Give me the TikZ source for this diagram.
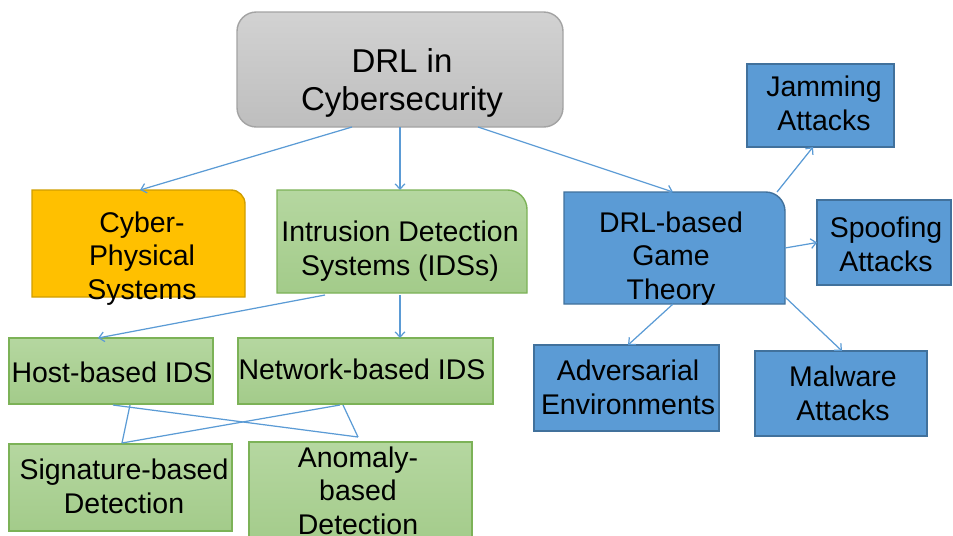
\documentclass[tikz,border=0pt]{standalone}
\usepackage{fontspec}
\setmainfont{Liberation Sans}
\usetikzlibrary{arrows.meta,fit,calc}

\definecolor{rootTop}{HTML}{D2D2D2}
\definecolor{rootBot}{HTML}{BEBEBE}
\definecolor{rootLine}{HTML}{A3A3A3}
\definecolor{cpsFill}{HTML}{FFC000}
\definecolor{cpsLine}{HTML}{D09E00}
\definecolor{grnTop}{HTML}{B5D7A0}
\definecolor{grnBot}{HTML}{A3CB8A}
\definecolor{grnLine}{HTML}{7CB257}
\definecolor{bluFill}{HTML}{5B9BD5}
\definecolor{bluLine}{HTML}{41719C}
\definecolor{connCol}{HTML}{5B9BD5}

% box whose top-right corner alone is rounded: #1 node, #2 path options, #3 radius
\newcommand{\tabbox}[3]{%
  \path[#2] (#1.south west) -- (#1.north west)
    -- ($(#1.north east)+(-#3,0pt)$) arc[start angle=90,end angle=0,radius=#3]
    -- (#1.south east) -- cycle;}

\begin{document}
\begin{tikzpicture}[x=0.02cm,y=-0.02cm,
  frame/.style={inner sep=0pt,outer sep=0pt},
  flatblue/.style={frame,fill=bluFill,draw=bluLine,line width=0.8pt},
  flatgreen/.style={frame,top color=grnTop,bottom color=grnBot,draw=grnLine,line width=0.8pt},
  txt/.style={align=center,anchor=base,inner sep=0pt,
    font=\fontsize{16.2pt}{18.8pt}\selectfont},
  bigtxt/.style={txt,font=\fontsize{18.8pt}{21.6pt}\selectfont},
  conn/.style={draw=connCol,line width=0.7pt,-{Straight Barb[length=3pt,width=5.5pt]}},
  link/.style={draw=connCol,line width=0.7pt}]
\useasboundingbox (0,0) rectangle (953,535);

% ---- box frames ----
\node[frame,fit={(237,12)(563,127)}] (root) {};
\node[frame,fit={(32,190)(245,297)}] (cps) {};
\node[frame,fit={(277,190)(527,293)}] (ids) {};
\node[frame,fit={(564,192)(785,304)}] (game) {};
\node[flatblue,fit={(747,64)(894,147)}] (jam) {};
\node[flatblue,fit={(817,200)(951,285)}] (spoof) {};
\node[flatblue,fit={(534,345)(719,431)}] (adv) {};
\node[flatblue,fit={(755,351)(927,436)}] (mal) {};
\node[flatgreen,fit={(9,338)(213,404)}] (host) {};
\node[flatgreen,fit={(238,338)(493,404)}] (net) {};
\node[flatgreen,fit={(9,444)(232,531)}] (sig) {};
\node[flatgreen,fit={(249,442)(472,548)}] (anom) {};

% ---- shaped outlines ----
\shade[top color=rootTop,bottom color=rootBot,draw=rootLine,line width=0.8pt,
  rounded corners=11pt] (root.north west) rectangle (root.south east);
\tabbox{cps}{fill=cpsFill,draw=cpsLine,line width=0.8pt}{8pt}
\tabbox{ids}{top color=grnTop,bottom color=grnBot,draw=grnLine,line width=0.8pt}{11pt}
\tabbox{game}{fill=bluFill,draw=bluLine,line width=0.8pt}{11pt}

% ---- labels (anchored at the baseline of the last line) ----
\node[bigtxt] (rootT) at (402,110) {DRL in\\Cybersecurity};
\node[txt] (cpsT) at (142,299) {Cyber-\\Physical\\Systems};
\node[txt] (idsT) at (400,275) {Intrusion Detection\\Systems (IDSs)};
\node[txt] (gameT) at (671,299) {DRL-based\\Game\\Theory};
\node[txt] (jamT) at (824,130) {Jamming\\Attacks};
\node[txt] (spoofT) at (886,271) {Spoofing\\Attacks};
\node[txt] (advT) at (628,414) {Adversarial\\Environments};
\node[txt] (malT) at (843,420) {Malware\\Attacks};
\node[txt] (hostT) at (112,382) {Host-based IDS};
\node[txt] (netT) at (362,379) {Network-based IDS};
\node[txt] (sigT) at (124,513) {Signature-based\\Detection};
\node[txt] (anomT) at (358,534) {Anomaly-\\based\\Detection};

% ---- arrows ----
\draw[conn] ($(root.south west)+(115,0)$) -- ($(cps.north west)+(108,0)$);
\draw[conn] (root.south) -- (root.south |- ids.north);
\draw[conn] ($(root.south west)+(241,0)$) -- ($(game.north west)+(109,0)$);
\draw[conn] ($(ids.south west)+(48,2)$) -- ($(host.north west)+(89,0)$);
\draw[conn] ($(ids.south west)+(123,2)$) -- ($(net.north west)+(162,0)$);
\draw[conn] ($(game.north east)+(-8,0)$) -- ($(jam.south west)+(66,0)$);
\draw[conn] (game.east) -- (spoof.west);
\draw[conn] ($(game.south west)+(109,0)$) -- ($(adv.north west)+(94,0)$);
\draw[conn] ($(game.south east)+(0,-7)$) -- ($(mal.north west)+(87,0)$);

% ---- crossing links between IDS types and detection methods ----
\coordinate (sigtop) at ($(sig.north west)+(113,-1)$);
\coordinate (anomtop) at ($(anom.north west)+(109,-5)$);
\draw[link] ($(host.south west)+(104,1)$) -- (anomtop);
\draw[link] ($(host.south west)+(121,1)$) -- (sigtop);
\draw[link] ($(net.south west)+(102,1)$) -- (sigtop);
\draw[link] ($(net.south west)+(105,1)$) -- (anomtop);
\end{tikzpicture}
\end{document}
